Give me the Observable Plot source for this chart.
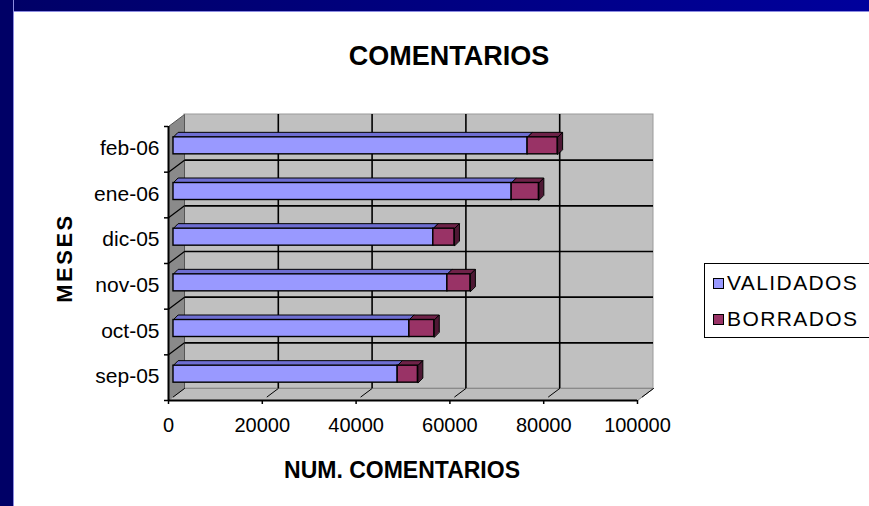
<!DOCTYPE html>
<html>
<head>
<meta charset="utf-8">
<script src="https://cdn.jsdelivr.net/npm/d3@7"></script>
<script src="https://cdn.jsdelivr.net/npm/@observablehq/plot@0.6"></script>
<style>
  html, body { margin: 0; padding: 0; background: #fff; }
  #page { position: relative; width: 869px; height: 506px; overflow: hidden; background: #fff;
          font-family: "Liberation Sans", Arial, sans-serif; color: #000; }
  #chart { position: absolute; left: 0; top: 0; }
  #topbar { position: absolute; left: 0; top: 0; width: 869px; height: 11px;
            background: linear-gradient(to right, #000066, #00009c); border-bottom: 1px solid #8c8ce0; }
  #leftbar { position: absolute; left: 0; top: 0; width: 13px; height: 506px; background: #000066;
             border-right: 1px solid #8c8ce0; }
  .t { position: absolute; text-align: center; font-weight: bold; white-space: nowrap; }
  #legend { position: absolute; left: 704px; top: 263px; width: 180px; height: 73px; border: 1px solid #000; background: #fff; }
  .item { position: absolute; left: 8px; height: 24px; line-height: 24px; font-size: 21px; letter-spacing: 1.4px; }
  .sw { display: inline-block; width: 9px; height: 9px; border: 1px solid #000; margin-right: 3px; vertical-align: 1px; }
</style>
</head>
<body>
<div id="page">
  <div id="chart"></div>
  <div class="t" style="left:149px; top:40px; width:600px; font-size:27px; line-height:32px;">COMENTARIOS</div>
  <div class="t" style="left:202px; top:456px; width:400px; font-size:23px; line-height:28px;">NUM. COMENTARIOS</div>
  <div class="t" style="left:5px; top:244px; width:120px; height:28px; font-size:22px; line-height:28px; letter-spacing:2.5px; transform:rotate(-90deg);">MESES</div>
  <div id="legend"></div>
  <div id="topbar"></div>
  <div id="leftbar"></div>
</div>
<script>
// ---- data ----
const months = ["sep-05", "oct-05", "nov-05", "dic-05", "ene-06", "feb-06"];
const validados = [47800, 50300, 58400, 55400, 72100, 75500];
const borrados = [4300, 5300, 4900, 4500, 5800, 6400];
const xTicks = [0, 20000, 40000, 60000, 80000, 100000];
const seriesNames = ["VALIDADOS", "BORRADOS"];
const seriesColors = ["#9999FF", "#993366"];

// ---- geometry of the 3D box (pixels) ----
const X0 = 184, X1 = 653, Y0 = 388, Y1 = 114;
const xMax = 100000, nCat = months.length;
const kx = xMax / (X1 - X0), ky = nCat / (Y0 - Y1);
const fdx = -16 * kx, fdy = -12 * ky;        // front plane offset
const bdx = -11, bdy = 8.5;                   // bar plane offset (px)
const th = 17 * ky / 2;                        // half bar thickness
const ddx = 5 * kx, ddy = 5 * ky;              // bar depth

const rows = months.map((m, i) => ({m, i, v: validados[i], b: borrados[i], t: validados[i] + borrados[i]}));

function polys(fn) {
  const pts = [];
  rows.forEach(r => fn(r).forEach(([x, y]) => pts.push({x, y, id: r.m})));
  return pts;
}
const topV = polys(r => { const y = r.i + 0.5 + th; return [[0, y], [r.v, y], [r.v + ddx, y + ddy], [ddx, y + ddy]]; });
const topB = polys(r => { const y = r.i + 0.5 + th; return [[r.v, y], [r.t, y], [r.t + ddx, y + ddy], [r.v + ddx, y + ddy]]; });
const endB = polys(r => { const y1 = r.i + 0.5 - th, y2 = r.i + 0.5 + th; return [[r.t, y1], [r.t, y2], [r.t + ddx, y2 + ddy], [r.t + ddx, y1 + ddy]]; });

const sideWall = [[0, 0], [0, nCat], [fdx, nCat + fdy], [fdx, fdy]].map(([x, y]) => ({x, y}));
const floor = [[0, 0], [xMax, 0], [xMax + fdx, fdy], [fdx, fdy]].map(([x, y]) => ({x, y}));
const catBounds = d3.range(nCat + 1);
const sideSlants = [];
d3.range(1, nCat).forEach(k => { sideSlants.push({x: 0, y: k, k}, {x: fdx, y: k + fdy, k}); });
const floorSlants = [];
xTicks.forEach(v => { floorSlants.push({x: v, y: 0, v}, {x: v + fdx * 0.7, y: fdy * 0.7, v}); });

const chart = Plot.plot({
  width: 869,
  height: 506,
  margin: 0,
  x: {domain: [0, xMax], range: [X0, X1], axis: null},
  y: {domain: [0, nCat], range: [Y0, Y1], axis: null},
  style: {background: "transparent", fontFamily: "Liberation Sans, Arial, sans-serif", color: "black"},
  marks: [
    // back wall
    Plot.rect([0], {x1: 0, x2: xMax, y1: 0, y2: nCat, fill: "#C0C0C0", stroke: "#9a9a9a", strokeWidth: 1}),
    Plot.ruleX(xTicks.slice(1, -1), {y1: 0, y2: nCat, stroke: "black", strokeWidth: 1.6}),
    Plot.ruleY(d3.range(1, nCat), {x1: 0, x2: xMax, stroke: "black", strokeWidth: 1.6}),
    // side wall
    Plot.line(sideWall, {x: "x", y: "y", fill: "#8a8a8a", stroke: "#555", strokeWidth: 1, curve: "linear-closed"}),
    Plot.line(sideSlants, {x: "x", y: "y", z: "k", stroke: "black", strokeWidth: 1.2}),
    // floor
    Plot.line(floor, {x: "x", y: "y", fill: "#BDBDBD", stroke: "#8a8a8a", strokeWidth: 1, curve: "linear-closed"}),
    Plot.line(floorSlants, {x: "x", y: "y", z: "v", stroke: "black", strokeWidth: 1}),
    // front axes
    Plot.ruleY([fdy], {x1: fdx, x2: xMax + fdx, stroke: "black", strokeWidth: 2}),
    Plot.ruleX([fdx], {y1: fdy, y2: nCat + fdy, stroke: "black", strokeWidth: 2}),
    Plot.ruleX(xTicks, {x: d => d + fdx, y1: fdy, y2: fdy - 4 * ky, stroke: "black", strokeWidth: 1.5}),
    Plot.ruleY(catBounds, {y: d => d + fdy, x1: fdx, x2: fdx - 4 * kx, stroke: "black", strokeWidth: 1.5}),
    // bars
    Plot.line(topV, {x: "x", y: "y", z: "id", fill: "#6e6ed2", stroke: "black", strokeWidth: 1, curve: "linear-closed", dx: bdx, dy: bdy}),
    Plot.line(topB, {x: "x", y: "y", z: "id", fill: "#6e2248", stroke: "black", strokeWidth: 1, curve: "linear-closed", dx: bdx, dy: bdy}),
    Plot.line(endB, {x: "x", y: "y", z: "id", fill: "#4e1834", stroke: "black", strokeWidth: 1, curve: "linear-closed", dx: bdx, dy: bdy}),
    Plot.rect(rows, {x1: 0, x2: "v", y1: d => d.i + 0.5 - th, y2: d => d.i + 0.5 + th, fill: seriesColors[0], stroke: "black", strokeWidth: 1.4, dx: bdx, dy: bdy}),
    Plot.rect(rows, {x1: "v", x2: "t", y1: d => d.i + 0.5 - th, y2: d => d.i + 0.5 + th, fill: seriesColors[1], stroke: "black", strokeWidth: 1.4, dx: bdx, dy: bdy}),
    // tick labels
    Plot.text(rows, {x: () => fdx, y: d => d.i + 0.5 + fdy, text: "m", textAnchor: "end", dx: -9, dy: -1, fontSize: 21, fill: "black"}),
    Plot.text(xTicks, {x: d => d + fdx, y: () => fdy, text: d => String(d), dy: 25, fontSize: 20, fill: "black"})
  ]
});
document.getElementById("chart").appendChild(chart);

// legend
const legend = document.getElementById("legend");
seriesNames.forEach((name, j) => {
  const it = document.createElement("div");
  it.className = "item";
  it.style.top = (7 + j * 36) + "px";
  const sw = document.createElement("span");
  sw.className = "sw";
  sw.style.background = seriesColors[j];
  it.appendChild(sw);
  it.appendChild(document.createTextNode(name));
  legend.appendChild(it);
});
</script>
</body>
</html>
